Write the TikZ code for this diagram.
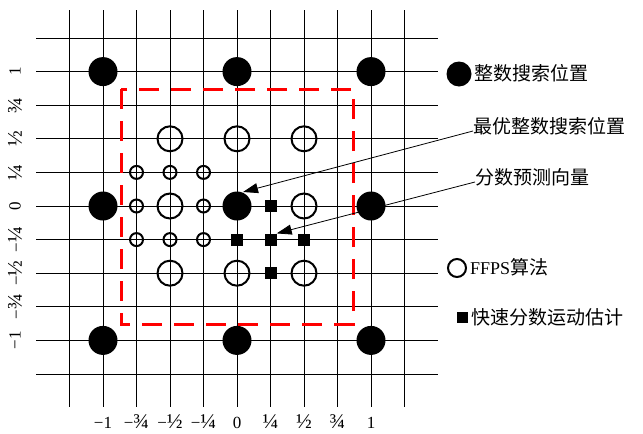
\documentclass[tikz,border=0pt]{standalone}
\usepackage{fontspec}
\setmainfont{Liberation Serif}
\newfontfamily\cjk{Noto Sans CJK SC}
\usetikzlibrary{arrows.meta}
\newcommand{\fq}[1]{{\fontsize{21}{21}\selectfont #1}}
\begin{document}
\begin{tikzpicture}[x=1pt,y=-1pt,
  gridline/.style={black,line width=0.9pt},
  bigdot/.style={circle,fill=black,inner sep=0pt,minimum size=29pt},
  bigring/.style={circle,draw=black,line width=2pt,inner sep=0pt,minimum size=25pt},
  smallring/.style={circle,draw=black,line width=2pt,inner sep=0pt,minimum size=13pt},
  sq/.style={rectangle,fill=black,inner sep=0pt,minimum size=12pt},
  axlab/.style={font=\fontsize{17}{17}\selectfont,inner sep=0pt},
  legtext/.style={font=\fontsize{19}{19}\selectfont\cjk,inner sep=0pt,anchor=west},
  pointer/.style={black,line width=0.8pt,-{Triangle[length=15pt,width=10pt]}},
  frame/.style={red,line width=3pt,dash pattern=on 20pt off 12pt}]
\useasboundingbox (0,0) rectangle (643,434);
\fill[white] (0,0) rectangle (643,434);
% grid
\foreach \q in {-5,...,5}{
  \draw[gridline] ({237+33.5*\q},10) -- ({237+33.5*\q},407);
  \draw[gridline] (36,{206-33.6*\q}) -- (438,{206-33.6*\q});
}
% red dashed search window
\draw[frame] (121,89) rectangle (353,324);
% integer search positions
\foreach \a/\b/\n in {-4/4/a,0/4/b,4/4/c,-4/0/d,0/0/e,4/0/f,-4/-4/g,0/-4/h,4/-4/i}
  \node[bigdot] (int\n) at ({237+33.5*\a},{206-33.6*\b}) {};
% FFPS half positions
\foreach \a/\b/\n in {-2/2/a,0/2/b,2/2/c,-2/0/d,2/0/e,-2/-2/f,0/-2/g,2/-2/h}
  \node[bigring] (half\n) at ({237+33.5*\a},{206-33.6*\b}) {};
% FFPS quarter positions
\foreach \a/\b/\n in {-3/1/a,-2/1/b,-1/1/c,-3/0/d,-1/0/e,-3/-1/f,-2/-1/g,-1/-1/h}
  \node[smallring] (qtr\n) at ({237+33.5*\a},{206-33.6*\b}) {};
% fast fractional motion estimation
\foreach \a/\b/\n in {1/0/a,0/-1/b,1/-1/c,2/-1/d,1/-2/e}
  \node[sq] (fast\n) at ({237+33.5*\a},{206-33.6*\b}) {};
% axis labels
\foreach \q/\t in {-4/{−1},-3/{−\fq{¾}},-2/{−\fq{½}},-1/{−\fq{¼}},0/{0},1/{\fq{¼}},2/{\fq{½}},3/{\fq{¾}},4/{1}}{
  \node[axlab,anchor=base] (bx\q) at ({237+33.5*\q},428) {\t};
  \node[axlab,rotate=90] (ly\q) at (15,{206-33.6*\q}) {\t};
}
% legend
\node[bigdot,minimum size=25pt] (legint) at (459,74) {};
\node[legtext] (tint) at (474,73) {整数搜索位置};
\node[legtext] (tbest) at (473,126) {最优整数搜索位置};
\node[legtext] (tfrac) at (475,177) {分数预测向量};
\node[circle,draw=black,line width=2pt,inner sep=0pt,minimum size=18pt] (legffps) at (457,268) {};
\node[legtext] (tffps) at (470,267) {{\fontsize{18}{18}\selectfont\rmfamily FFPS}算法};
\node[sq,minimum size=11pt] (legfast) at (462,317) {};
\node[legtext] (tfast) at (471,317) {快速分数运动估计};
% pointers
\coordinate (s1) at (473,131);
\coordinate (tip1) at (243,192);
\coordinate (s2) at (475,182);
\draw[pointer] (s1) -- (tip1);
\draw[pointer] (s2) -- (fastc.north east);
\end{tikzpicture}
\end{document}
